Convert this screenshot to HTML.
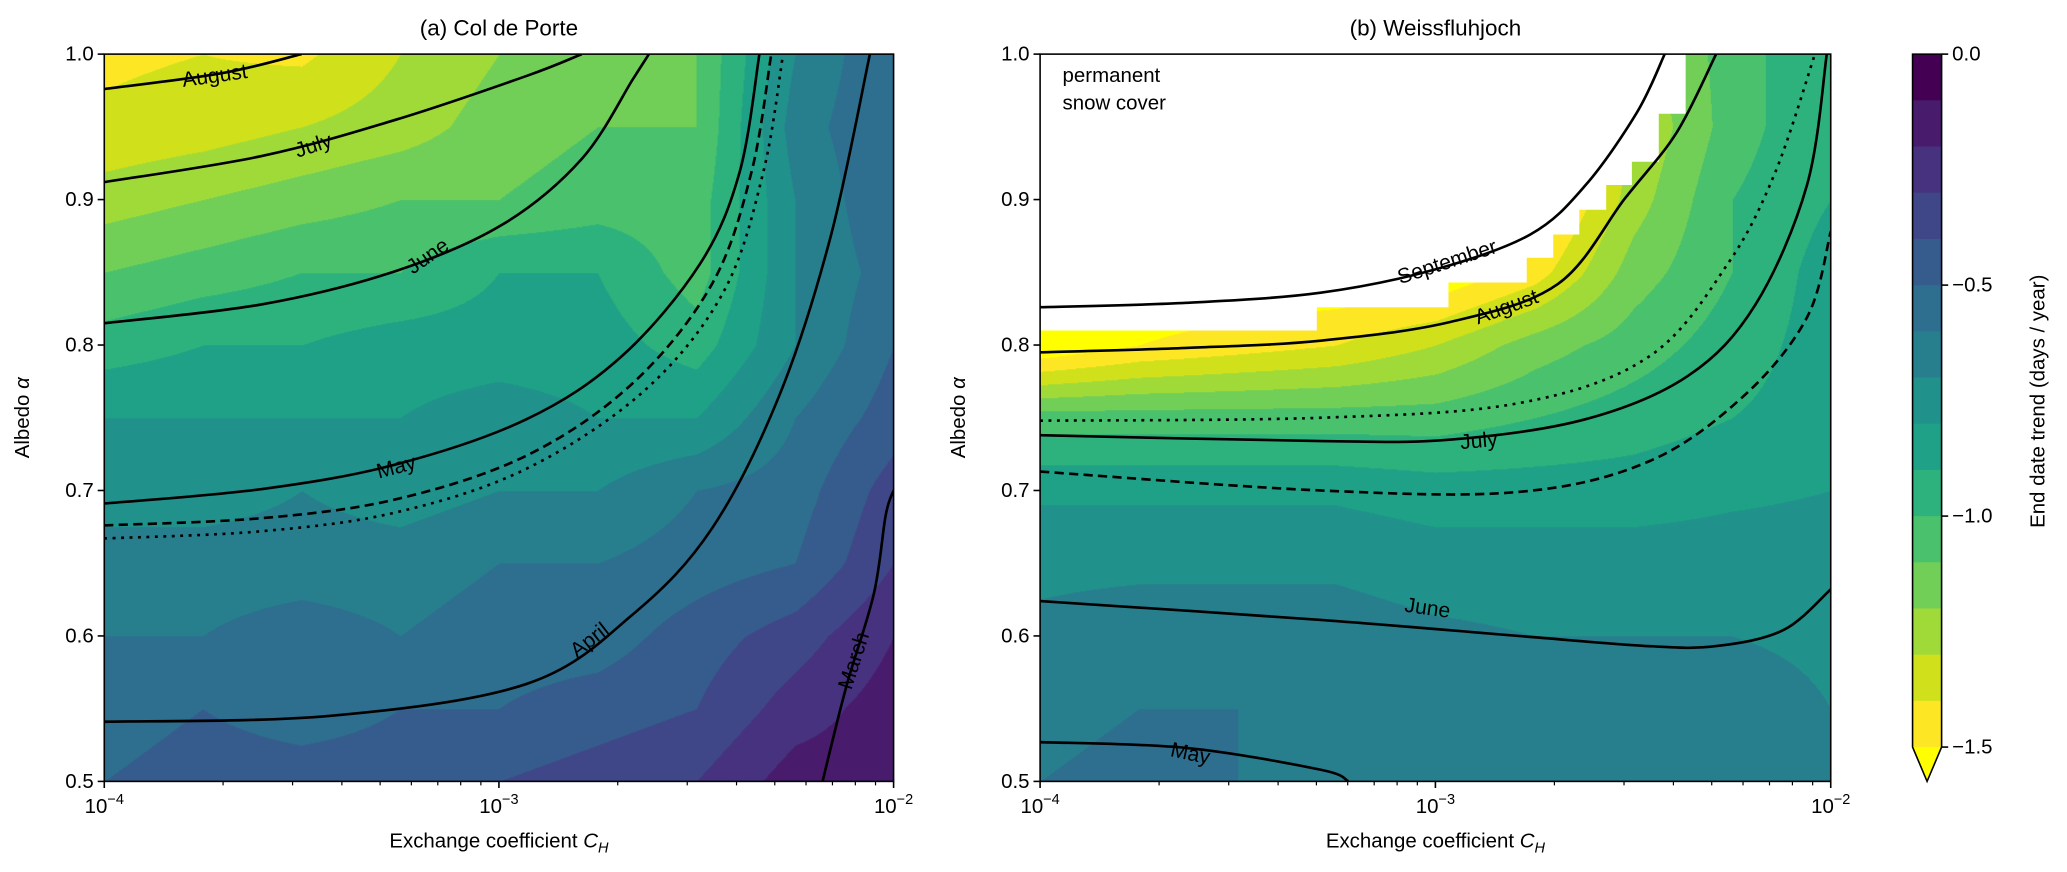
<!DOCTYPE html>
<html><head><meta charset="utf-8">
<style>
html,body{margin:0;padding:0;background:#fff;width:2067px;height:872px;overflow:hidden}
#wrap{position:absolute;left:0;top:0;width:1566px;height:661px;transform:scale(1.31992);transform-origin:0 0;font-family:"Liberation Sans","DejaVu Sans",sans-serif}
canvas{position:absolute}
svg{position:absolute;left:0;top:0}
</style></head>
<body>
<div id="wrap">
<canvas id="ca" style="left:79px;top:41px;width:598px;height:551px"></canvas>
<canvas id="cb" style="left:788px;top:41px;width:599px;height:551px"></canvas>
<svg id="svg" width="1566" height="661" viewBox="0 0 1566 661" xmlns="http://www.w3.org/2000/svg"></svg>
</div>
<script>
// ---- data ----
const logCols=[-4,-3.75,-3.5,-3.25,-3,-2.75,-2.5,-2.25,-2];
const albRows=[1.0,0.95,0.9,0.85,0.8,0.75,0.7,0.65,0.6,0.55,0.5];
const fieldA=[
[-1.42,-1.4,-1.42,-1.3,-1.2,-1.15,-1.1,-0.7,-0.5],
[-1.38,-1.35,-1.3,-1.25,-1.15,-1.1,-1.1,-0.65,-0.5],
[-1.25,-1.2,-1.15,-1.1,-1.1,-1.05,-1.05,-0.7,-0.5],
[-1.1,-1.05,-1.0,-1.0,-0.9,-0.9,-1.05,-0.7,-0.55],
[-0.95,-0.9,-0.9,-0.85,-0.85,-0.85,-0.95,-0.7,-0.5],
[-0.8,-0.8,-0.8,-0.8,-0.75,-0.8,-0.8,-0.6,-0.45],
[-0.75,-0.75,-0.7,-0.75,-0.7,-0.7,-0.6,-0.55,-0.35],
[-0.65,-0.65,-0.65,-0.65,-0.6,-0.6,-0.55,-0.5,-0.3],
[-0.6,-0.6,-0.55,-0.6,-0.55,-0.55,-0.45,-0.35,-0.2],
[-0.55,-0.5,-0.55,-0.5,-0.5,-0.45,-0.4,-0.25,-0.15],
[-0.5,-0.45,-0.45,-0.45,-0.4,-0.35,-0.3,-0.15,-0.15]];
const fieldB=[
[-1.6,-1.6,-1.6,-1.6,-1.6,-1.6,-1.25,-1.05,-0.9],
[-1.6,-1.6,-1.6,-1.6,-1.6,-1.6,-1.3,-1.05,-0.9],
[-1.6,-1.6,-1.6,-1.6,-1.6,-1.6,-1.25,-1.0,-0.9],
[-1.6,-1.6,-1.6,-1.6,-1.6,-1.45,-1.15,-1.0,-0.85],
[-1.6,-1.5,-1.45,-1.4,-1.3,-1.15,-1.05,-0.95,-0.85],
[-1.05,-1.05,-1.05,-1.05,-1.05,-1.0,-0.95,-0.9,-0.85],
[-0.82,-0.82,-0.82,-0.82,-0.85,-0.85,-0.85,-0.82,-0.8],
[-0.72,-0.72,-0.72,-0.72,-0.75,-0.75,-0.75,-0.75,-0.75],
[-0.68,-0.65,-0.65,-0.65,-0.68,-0.7,-0.7,-0.7,-0.72],
[-0.62,-0.6,-0.6,-0.62,-0.65,-0.65,-0.65,-0.65,-0.7],
[-0.6,-0.58,-0.6,-0.62,-0.65,-0.65,-0.65,-0.65,-0.7]];
const maskB=[[-4,1],[-4,0.81],[-3.30,0.81],[-3.30,0.826],[-2.967,0.826],[-2.967,0.843],[-2.769,0.843],[-2.769,0.86],[-2.702,0.86],[-2.702,0.876],[-2.636,0.876],[-2.636,0.893],[-2.568,0.893],[-2.568,0.91],[-2.503,0.91],[-2.503,0.926],[-2.435,0.926],[-2.435,0.959],[-2.367,0.959],[-2.367,1]];
const linesA=[
{name:'august',style:'solid',pts:[[-4,0.976],[-3.70,0.987],[-3.50,1.0]]},
{name:'july',style:'solid',pts:[[-4,0.912],[-3.60,0.930],[-3.26,0.955],[-2.93,0.985],[-2.79,1.0]]},
{name:'june',style:'solid',pts:[[-4,0.815],[-3.60,0.828],[-3.26,0.851],[-2.99,0.883],[-2.79,0.928],[-2.66,0.983],[-2.62,1.0]]},
{name:'may',style:'solid',pts:[[-4,0.691],[-3.60,0.701],[-3.26,0.718],[-2.93,0.749],[-2.69,0.792],[-2.49,0.856],[-2.39,0.919],[-2.34,1.0]]},
{name:'dashed',style:'dashed',pts:[[-4,0.676],[-3.60,0.681],[-3.26,0.694],[-2.93,0.724],[-2.66,0.774],[-2.46,0.842],[-2.36,0.919],[-2.31,1.0]]},
{name:'dotted',style:'dotted',pts:[[-4,0.667],[-3.60,0.672],[-3.26,0.685],[-2.93,0.715],[-2.63,0.769],[-2.43,0.837],[-2.33,0.919],[-2.28,1.0]]},
{name:'april',style:'solid',pts:[[-4,0.541],[-3.43,0.545],[-2.93,0.567],[-2.66,0.615],[-2.46,0.674],[-2.29,0.765],[-2.16,0.874],[-2.06,1.0]]},
{name:'march',style:'solid',pts:[[-2.18,0.5],[-2.12,0.565],[-2.05,0.629],[-2.02,0.683],[-2.0,0.7]]}];
const linesB=[
{name:'september',style:'solid',pts:[[-4,0.826],[-3.63,0.829],[-3.29,0.836],[-3.0,0.852],[-2.76,0.876],[-2.62,0.910],[-2.49,0.960],[-2.42,1.0]]},
{name:'august',style:'solid',pts:[[-4,0.795],[-3.63,0.798],[-3.29,0.803],[-2.96,0.816],[-2.69,0.842],[-2.52,0.901],[-2.39,0.946],[-2.29,1.0]]},
{name:'dotted',style:'dotted',pts:[[-4,0.748],[-3.29,0.750],[-2.79,0.760],[-2.46,0.792],[-2.26,0.856],[-2.14,0.919],[-2.04,1.0]]},
{name:'july',style:'solid',pts:[[-4,0.738],[-3.29,0.734],[-2.96,0.735],[-2.62,0.749],[-2.36,0.779],[-2.19,0.828],[-2.06,0.910],[-2.01,1.0]]},
{name:'dashed',style:'dashed',pts:[[-4,0.713],[-3.29,0.700],[-2.79,0.699],[-2.46,0.720],[-2.22,0.765],[-2.06,0.819],[-2.0,0.878]]},
{name:'june',style:'solid',pts:[[-4,0.624],[-3.29,0.611],[-2.79,0.600],[-2.46,0.593],[-2.29,0.593],[-2.12,0.604],[-2.0,0.632]]},
{name:'may',style:'solid',pts:[[-4,0.527],[-3.63,0.523],[-3.29,0.508],[-3.22,0.5]]}];
const labelsA=[['August',-3.72,0.985,-8],['July',-3.47,0.937,-18],['June',-3.18,0.861,-35],['May',-3.26,0.716,-15],['April',-2.77,0.597,-38],['March',-2.10,0.583,-72]];
const labelsB=[['September',-2.97,0.857,-18],['August',-2.82,0.826,-20],['July',-2.89,0.734,-5],['June',-3.02,0.619,8],['May',-3.62,0.519,12]];
const xTickExp=[-4,-3,-2];
const yTicks=[0.5,0.6,0.7,0.8,0.9,1.0];
const cbTicks=[0.0,-0.5,-1.0,-1.5];
const cbLevels=[0,-0.1,-0.2,-0.3,-0.4,-0.5,-0.6,-0.7,-0.8,-0.9,-1.0,-1.1,-1.2,-1.3,-1.4,-1.5];
const bandColors=['#440154','#481b6d','#46327e','#3f4788','#365c8d','#2e6e8e','#277f8e','#21918c','#1fa187','#2db27d','#4ac16d','#71cf57','#a0da39','#d0e11c','#fde725'];
const extendColor='#ffff00';

// ---- helpers ----
const NS='http://www.w3.org/2000/svg';
const svg=document.getElementById('svg');
const SC=2067/1566;
const P={a:{x0:79,x1:677,y0:41,y1:592},b:{x0:788,x1:1387,y0:41,y1:592}};
function xs(p,l){return p.x0+(l+4)/2*(p.x1-p.x0);}
function ys(p,a){return p.y0+(1-a)/0.5*(p.y1-p.y0);}
function mk(tag,attrs,parent){const e=document.createElementNS(NS,tag);for(const k in attrs)e.setAttribute(k,attrs[k]);(parent||svg).appendChild(e);return e;}
function hex(c){return [parseInt(c.substr(1,2),16),parseInt(c.substr(3,2),16),parseInt(c.substr(5,2),16)];}
const bandRGB=bandColors.map(hex), extRGB=hex(extendColor);
function colorFor(v){if(v<cbLevels[cbLevels.length-1])return extRGB;let k=Math.floor(-v/0.1+1e-9);if(k<0)k=0;if(k>14)k=14;return bandRGB[k];}
function sample(F,l,a){
  let cf=(l-logCols[0])/(logCols[1]-logCols[0]), rf=(albRows[0]-a)/(albRows[0]-albRows[1]);
  cf=Math.max(0,Math.min(logCols.length-1.001,cf)); rf=Math.max(0,Math.min(albRows.length-1.001,rf));
  const c=Math.floor(cf),r=Math.floor(rf),tx=cf-c,ty=rf-r;
  const v00=F[r][c],v01=F[r][c+1],v10=F[r+1][c],v11=F[r+1][c+1];
  return (v00*(1-tx)+v01*tx)*(1-ty)+(v10*(1-tx)+v11*tx)*ty;
}
function drawField(id,p,F){
  const cv=document.getElementById(id);
  const w=Math.round((p.x1-p.x0)*SC),h=Math.round((p.y1-p.y0)*SC);
  cv.width=w;cv.height=h;const ctx=cv.getContext('2d');const img=ctx.createImageData(w,h);
  for(let j=0;j<h;j++){const a=1-0.5*j/h;for(let i=0;i<w;i++){const l=-4+2*i/w;const c=colorFor(sample(F,l,a));const o=(j*w+i)*4;img.data[o]=c[0];img.data[o+1]=c[1];img.data[o+2]=c[2];img.data[o+3]=255;}}
  ctx.putImageData(img,0,0);
}
drawField('ca',P.a,fieldA);
drawField('cb',P.b,fieldB);

function smoothPath(pts){
  let d='M'+pts[0][0]+','+pts[0][1];
  for(let i=0;i<pts.length-1;i++){
    const p0=pts[i-1]||pts[i],p1=pts[i],p2=pts[i+1],p3=pts[i+2]||p2;
    const c1=[p1[0]+(p2[0]-p0[0])/6,p1[1]+(p2[1]-p0[1])/6],c2=[p2[0]-(p3[0]-p1[0])/6,p2[1]-(p3[1]-p1[1])/6];
    d+=' C'+c1[0]+','+c1[1]+' '+c2[0]+','+c2[1]+' '+p2[0]+','+p2[1];
  }
  return d;
}
function drawPanel(key,p,lines,labels,title,mask){
  const g=mk('g',{});
  
  
  const cid='clip'+key;
  const cp=mk('clipPath',{id:cid},g);mk('rect',{x:p.x0,y:p.y0,width:p.x1-p.x0,height:p.y1-p.y0},cp);
  if(mask){
    const m=mk('polygon',{points:mask.map(q=>xs(p,q[0])+','+ys(p,q[1])).join(' '),fill:'#fff'},g);
    
    
  }
  const lg=mk('g',{'clip-path':'url(#'+cid+')'},g);
  lines.forEach(L=>{
    const pts=L.pts.map(q=>[xs(p,q[0]),ys(p,q[1])]);
    const at={d:smoothPath(pts),fill:'none',stroke:'#000','stroke-width':2};
    if(L.style==='dashed')at['stroke-dasharray']='7,4';
    if(L.style==='dotted')at['stroke-dasharray']='2.2,4.2';
    const e=mk('path',at,lg);
    
    
  });
  labels.forEach(Lb=>{
    const x=xs(p,Lb[1]),y=ys(p,Lb[2]);
    const t=mk('text',{x:x,y:y,'font-size':16,'text-anchor':'middle','dominant-baseline':'central',transform:'rotate('+Lb[3]+' '+x+' '+y+')',fill:'#000'},g);
    t.textContent=Lb[0];
    
    
  });
  const fr=mk('rect',{x:p.x0,y:p.y0,width:p.x1-p.x0,height:p.y1-p.y0,fill:'none',stroke:'#000','stroke-width':1.2},g);
  
  
  yTicks.forEach(v=>{
    const y=ys(p,v);mk('line',{x1:p.x0-5,x2:p.x0,y1:y,y2:y,stroke:'#000','stroke-width':1.2},g);
    const t=mk('text',{x:p.x0-8,y:y,'font-size':15.5,'text-anchor':'end','dominant-baseline':'central'},g);t.textContent=v.toFixed(1);
    
    
  });
  xTickExp.forEach(e=>{
    const x=xs(p,e);mk('line',{x1:x,x2:x,y1:p.y1,y2:p.y1+5,stroke:'#000','stroke-width':1.2},g);
    const t=mk('text',{x:x,y:p.y1+24,'font-size':15.5,'text-anchor':'middle'},g);
    t.innerHTML='10<tspan dy="-7" font-size="11">\u2212'+(-e)+'</tspan>';
    
    
    if(e<-2)for(let m=2;m<10;m++){const xm=xs(p,e+Math.log10(m));mk('line',{x1:xm,x2:xm,y1:p.y1,y2:p.y1+3,stroke:'#000','stroke-width':0.9},g);}
  });
  const cx=(p.x0+p.x1)/2;
  const tt=mk('text',{x:cx,y:27,'font-size':17,'text-anchor':'middle'},g);tt.textContent=title;
  
  
  const xl=mk('text',{x:cx,y:642,'font-size':15.5,'text-anchor':'middle'},g);
  xl.innerHTML='Exchange coefficient <tspan font-style="italic">C</tspan><tspan font-style="italic" font-size="11" dy="4">H</tspan>';
  
  
  const yx=p.x0-57,yy=(p.y0+p.y1)/2;
  const yl=mk('text',{x:yx,y:yy,'font-size':15.5,'text-anchor':'middle',transform:'rotate(-90 '+yx+' '+yy+')'},g);
  yl.innerHTML='Albedo <tspan font-style="italic">\u03b1</tspan>';
  
  
}
drawPanel('a',P.a,linesA,labelsA,'(a) Col de Porte',null);
drawPanel('b',P.b,linesB,labelsB,'(b) Weissfluhjoch',maskB);
const pn=mk('text',{x:805,y:62,'font-size':15.5});pn.innerHTML='<tspan x="805">permanent</tspan><tspan x="805" dy="21">snow cover</tspan>';



// colorbar
const CB={x0:1449,x1:1471,y0:41,y1:566,tip:592};
function cby(v){return CB.y0+(0-v)/1.5*(CB.y1-CB.y0);}
const cbg=mk('g',{});


for(let k=0;k<cbLevels.length-1;k++){
  const r=mk('rect',{x:CB.x0,y:cby(cbLevels[k]),width:CB.x1-CB.x0,height:cby(cbLevels[k+1])-cby(cbLevels[k])+0.5,fill:bandColors[k]},cbg);
  
  
}
const tri=mk('polygon',{points:CB.x0+','+CB.y1+' '+CB.x1+','+CB.y1+' '+(CB.x0+CB.x1)/2+','+CB.tip,fill:extendColor},cbg);


mk('polygon',{points:CB.x0+','+CB.y0+' '+CB.x1+','+CB.y0+' '+CB.x1+','+CB.y1+' '+(CB.x0+CB.x1)/2+','+CB.tip+' '+CB.x0+','+CB.y1,fill:'none',stroke:'#000','stroke-width':1.2},cbg);
cbTicks.forEach(v=>{
  const y=cby(v);mk('line',{x1:CB.x1,x2:CB.x1+5,y1:y,y2:y,stroke:'#000','stroke-width':1.2},cbg);
  const t=mk('text',{x:CB.x1+8,y:y,'font-size':15.5,'dominant-baseline':'central'},cbg);
  t.textContent=(v<0?'\u2212':'')+Math.abs(v).toFixed(1);
  
  
});
const cl=mk('text',{x:1549,y:304,'font-size':15.5,'text-anchor':'middle',transform:'rotate(-90 1549 304)'},cbg);
cl.textContent='End date trend (days / year)';


</script>
</body></html>
